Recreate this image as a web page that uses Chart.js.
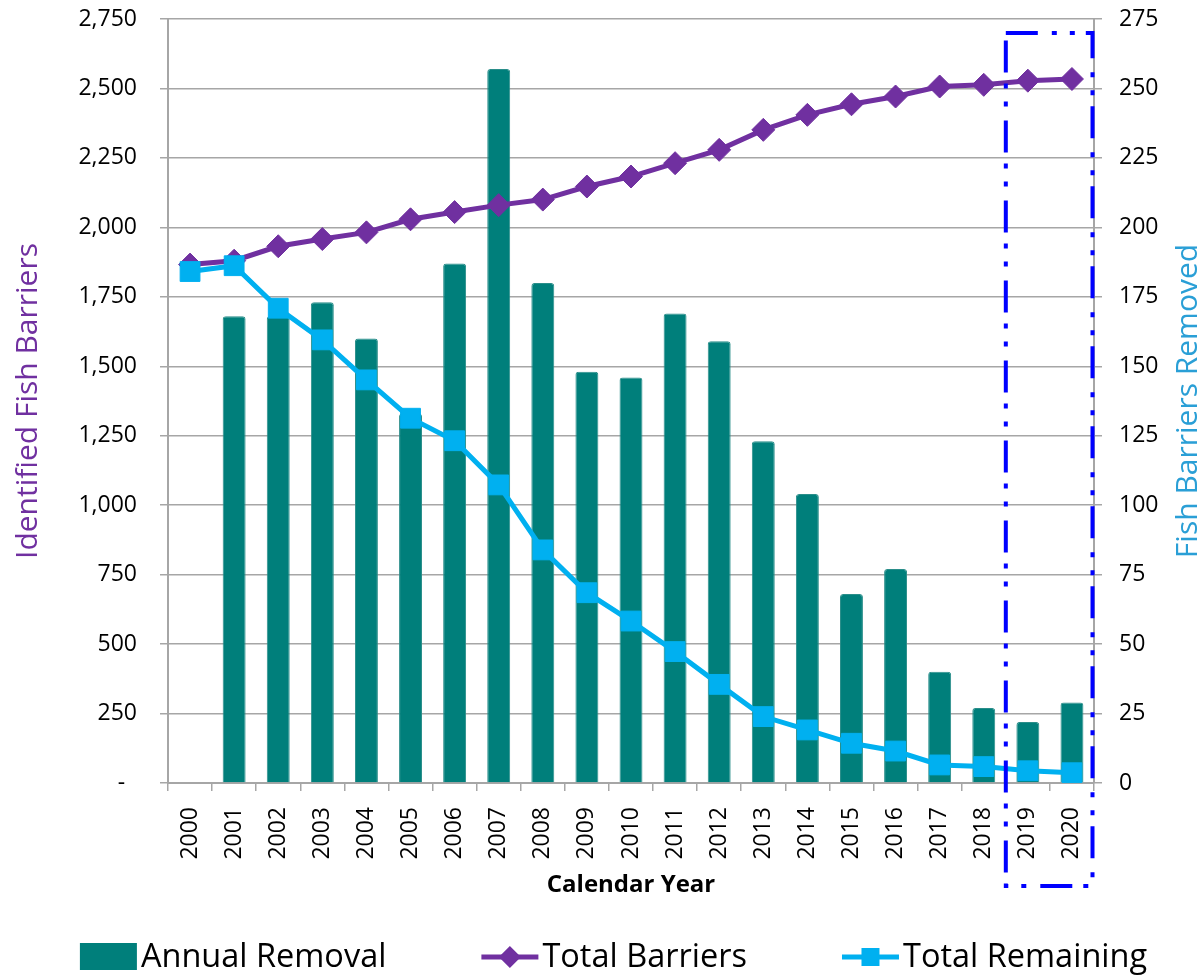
<!DOCTYPE html>
<html>
<head>
<meta charset="utf-8">
<title>Fish Barriers</title>
<script src="https://cdn.jsdelivr.net/npm/chart.js@4.4.1/dist/chart.umd.min.js"></script>
<style>
  html, body { margin: 0; padding: 0; background: #fff; }
  #wrap { width: 1203px; height: 975px; position: relative; }
</style>
</head>
<body>
<div id="wrap"><canvas id="myChart"></canvas></div>
<script>
// Calendar years on the x axis
const years = ['2000', '2001', '2002', '2003', '2004', '2005', '2006', '2007', '2008', '2009', '2010',
               '2011', '2012', '2013', '2014', '2015', '2016', '2017', '2018', '2019', '2020'];

// Barriers removed each year (right axis)
const annualRemoval = [null, 168, 168, 173, 160, 133, 187, 257, 180, 148, 146,
                       169, 159, 123, 104, 68, 77, 40, 27, 22, 29];

// Identified barriers, cumulative (left axis)
const totalBarriers = [1866, 1880, 1932, 1958, 1982, 2029, 2055, 2080, 2100, 2147, 2183,
                       2231, 2279, 2351, 2405, 2443, 2471, 2507, 2513, 2528, 2534];

// Barriers still in place (left axis)
const totalRemaining = [1841, 1862, 1709, 1595, 1451, 1313, 1232, 1073, 839, 685, 583,
                        473, 355, 239, 191, 143, 115, 65, 59, 44, 37];

// Range highlighted by the dashed box
const highlightFrom = '2019';

const FONT = '"Open Sans", "DejaVu Sans", sans-serif';
const TEAL = '#007f7b';
const PURPLE = '#7030a0';
const CYAN = '#00b0f0';
const GRID = '#a6a6a6';

// fixed widths for the value axes; label padding must not push the plot area down
function fitValueAxis(width) {
    return s => {
        s.width = width;
        s.paddingTop = 14;
        s.paddingBottom = 14;
    };
}

// Dashed blue box around the last two years
const highlightBox = {
    id: 'highlightBox',
    afterDatasetsDraw(chart) {
        const ctx = chart.ctx;
        const x = chart.scales.x;
        const y1 = chart.scales.y1;
        const i0 = years.indexOf(highlightFrom);
        const left = (x.getPixelForValue(i0 - 1) + x.getPixelForValue(i0)) / 2;
        const right = chart.chartArea.right - 1.5;
        const top = y1.getPixelForValue(270);
        const bottom = x.bottom - 18;
        ctx.save();
        ctx.strokeStyle = '#0000ff';
        ctx.lineWidth = 4;
        ctx.setLineDash([32, 14, 5, 13, 5, 11]);
        ctx.beginPath();
        ctx.moveTo(left, top);
        ctx.lineTo(right, top);
        ctx.lineTo(right, bottom);
        ctx.lineTo(left, bottom);
        ctx.closePath();
        ctx.stroke();
        ctx.restore();
    }
};

// Right axis title reads bottom-to-top, and a legend row with line+marker swatches
const extras = {
    id: 'extras',
    afterDraw(chart) {
        const ctx = chart.ctx;
        const area = chart.chartArea;
        ctx.save();

        // right title
        ctx.translate(1188, (area.top + area.bottom) / 2);
        ctx.rotate(-Math.PI / 2);
        ctx.font = '30px ' + FONT;
        ctx.fillStyle = '#2a9fd6';
        ctx.textAlign = 'center';
        ctx.textBaseline = 'middle';
        ctx.fillText('Fish Barriers Removed', 0, 0);
        ctx.setTransform(1, 0, 0, 1, 0, 0);

        // legend
        const cy = 957;
        const swatch = 57, gap = 4, between = 95;
        ctx.font = '32.5px ' + FONT;
        const items = chart.data.datasets.map(ds => ({ ds, w: swatch + gap + ctx.measureText(ds.label).width }));
        items.sort((a, b) => a.ds.legendOrder - b.ds.legendOrder);
        const total = items.reduce((s, it) => s + it.w, 0) + between * (items.length - 1);
        let x = chart.width / 2 - total / 2 + 12;
        items.forEach(({ ds, w }) => {
            if (ds.type === 'bar') {
                ctx.fillStyle = ds.backgroundColor;
                ctx.fillRect(x, cy - 14, swatch, 27);
            } else {
                ctx.strokeStyle = ds.borderColor;
                ctx.lineWidth = 5;
                ctx.beginPath();
                ctx.moveTo(x, cy);
                ctx.lineTo(x + swatch, cy);
                ctx.stroke();
                ctx.fillStyle = ds.pointBackgroundColor;
                const mx = x + swatch / 2;
                ctx.beginPath();
                if (ds.pointStyle === 'rectRot') {
                    ctx.moveTo(mx - 11, cy);
                    ctx.lineTo(mx, cy - 11);
                    ctx.lineTo(mx + 11, cy);
                    ctx.lineTo(mx, cy + 11);
                } else {
                    ctx.rect(mx - 9, cy - 9, 18, 18);
                }
                ctx.closePath();
                ctx.fill();
            }
            ctx.fillStyle = '#000';
            ctx.textAlign = 'left';
            ctx.textBaseline = 'middle';
            ctx.fillText(ds.label, x + swatch + gap, cy + 1);
            x += w + between;
        });
        ctx.restore();
    }
};

const ctx = document.getElementById('myChart').getContext('2d');
const fishChart = new Chart(ctx, {
    data: {
        labels: years,
        datasets: [
            {
                type: 'line',
                label: 'Total Remaining',
                legendOrder: 3,
                data: totalRemaining,
                yAxisID: 'y',
                order: 0,
                borderColor: CYAN,
                backgroundColor: CYAN,
                borderWidth: 5,
                tension: 0,
                pointStyle: 'rect',
                pointRadius: 14,
                pointBackgroundColor: CYAN,
                pointBorderColor: CYAN,
                pointBorderWidth: 1
            },
            {
                type: 'line',
                label: 'Total Barriers',
                legendOrder: 2,
                data: totalBarriers,
                yAxisID: 'y',
                order: 1,
                borderColor: PURPLE,
                backgroundColor: PURPLE,
                borderWidth: 5,
                tension: 0,
                pointStyle: 'rectRot',
                pointRadius: 11.5,
                pointBackgroundColor: PURPLE,
                pointBorderColor: PURPLE,
                pointBorderWidth: 1
            },
            {
                type: 'bar',
                label: 'Annual Removal',
                legendOrder: 1,
                data: annualRemoval,
                yAxisID: 'y1',
                order: 2,
                backgroundColor: TEAL,
                borderColor: '#2a8e8a',
                borderWidth: 1,
                borderRadius: 3,
                borderSkipped: 'bottom',
                barPercentage: 0.52,
                categoryPercentage: 1
            }
        ]
    },
    options: {
        responsive: true,
        maintainAspectRatio: false,
        animation: false,
        layout: { padding: { top: 19, left: 0, right: 0, bottom: 71 } },
        plugins: {
            legend: { display: false },
            tooltip: { enabled: false }
        },
        scales: {
            x: {
                offset: true,
                afterFit: s => { s.height = 121; },
                grid: {
                    offset: true,
                    drawOnChartArea: false,
                    drawTicks: true,
                    tickLength: 8,
                    color: GRID,
                    lineWidth: 1.5
                },
                border: { display: true, color: GRID, width: 2 },
                ticks: {
                    autoSkip: false,
                    minRotation: 90,
                    maxRotation: 90,
                    padding: 16,
                    color: '#000',
                    font: { family: FONT, size: 23 }
                },
                title: {
                    display: true,
                    text: 'Calendar Year',
                    color: '#000',
                    padding: { top: 4, bottom: 4 },
                    font: { family: FONT, size: 24, weight: 'bold' }
                }
            },
            y: {
                position: 'left',
                min: 0,
                max: 2750,
                afterFit: fitValueAxis(168),
                grid: {
                    color: GRID,
                    lineWidth: 1.5,
                    drawTicks: true,
                    tickLength: 8
                },
                border: { display: true, color: GRID, width: 2 },
                ticks: {
                    stepSize: 250,
                    padding: 23,
                    color: '#000',
                    font: { family: FONT, size: 23 },
                    callback: v => v === 0 ? '-  ' : v.toLocaleString('en-US')
                },
                title: {
                    display: true,
                    text: 'Identified Fish Barriers',
                    color: PURPLE,
                    padding: { top: 13, bottom: 0 },
                    font: { family: FONT, size: 30, lineHeight: 1 }
                }
            },
            y1: {
                position: 'right',
                min: 0,
                max: 275,
                afterFit: fitValueAxis(109),
                grid: {
                    drawOnChartArea: false,
                    drawTicks: true,
                    tickLength: 8,
                    color: GRID,
                    lineWidth: 1.5
                },
                border: { display: true, color: GRID, width: 2 },
                ticks: {
                    stepSize: 25,
                    padding: 17,
                    color: '#000',
                    font: { family: FONT, size: 23 }
                }
            }
        }
    },
    plugins: [highlightBox, extras]
});
</script>
</body>
</html>
